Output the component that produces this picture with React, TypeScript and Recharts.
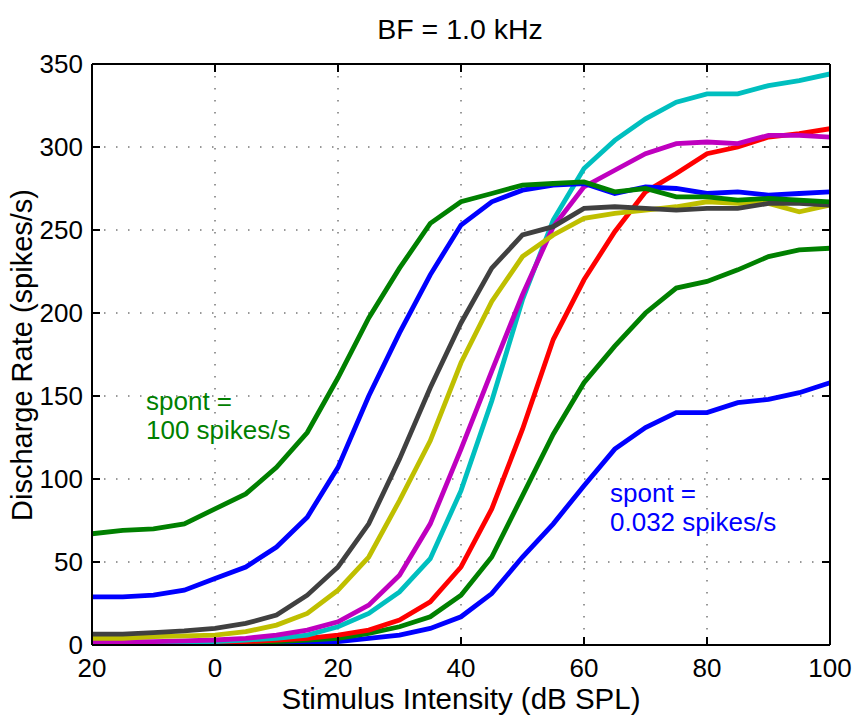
import React from 'react';
import { LineChart, Line, XAxis, YAxis, CartesianGrid } from 'recharts';

const intensities = [-20, -15, -10, -5, 0, 5, 10, 15, 20, 25, 30, 35, 40, 45, 50, 55, 60, 65, 70, 75, 80, 85, 90, 95, 100];

const rateBlueLow = [0, 0, 0, 0, 0.3, 0.5, 1, 1.5, 2, 4, 6, 10, 17, 31, 53, 73, 96, 118, 131, 140, 140, 146, 148, 152, 158];
const rateGreenLow = [0.5, 0.5, 0.6, 0.7, 1, 1.2, 2, 3, 4, 7, 11, 17, 30, 53, 90, 127, 158, 180, 200, 215, 219, 226, 234, 238, 239];
const rateRed = [1, 1, 1, 1, 1.3, 2, 3, 4, 6, 9, 15, 26, 47, 82, 130, 184, 220, 249, 273, 284, 296, 300, 306, 308, 311];
const rateCyan = [1, 1, 1, 1.5, 2, 3, 4, 6, 11, 19, 32, 52, 93, 147, 208, 256, 287, 304, 317, 327, 332, 332, 337, 340, 344];
const rateMagenta = [2, 2, 2, 2.5, 3, 4, 6, 9, 14, 24, 42, 73, 118, 165, 211, 252, 276, 286, 296, 302, 303, 302, 307, 307, 306];
const rateYellow = [4, 4, 5, 5.5, 6, 8, 12, 19, 33, 53, 87, 123, 170, 207, 234, 247, 257, 260, 262, 264, 267, 266, 266, 261, 265];
const rateGray = [6.5, 6.5, 7.5, 8.5, 10, 13, 18, 30, 47, 73, 112, 155, 194, 227, 247, 252, 263, 264, 263, 262, 263, 263, 266, 266, 265];
const rateBlueHigh = [29, 29, 30, 33, 40, 47, 59, 77, 107, 150, 188, 223, 253, 267, 274, 277, 278, 272, 276, 275, 272, 273, 271, 272, 273];
const rateGreenHigh = [67, 69, 70, 73, 82, 91, 107, 128, 161, 197, 227, 254, 267, 272, 277, 278, 279, 273, 275, 270, 270, 268, 269, 268, 267];

const seriesKeys = ['s1', 's2', 's3', 's4', 's5', 's6', 's7', 's8', 's9'];
const seriesValues = [rateBlueLow, rateGreenLow, rateRed, rateCyan, rateMagenta, rateYellow, rateGray, rateBlueHigh, rateGreenHigh];
const seriesColors = ['#0000ff', '#008000', '#ff0000', '#00bfbf', '#bf00bf', '#bfbf00', '#404040', '#0000ff', '#008000'];

const xTicks = [-20, 0, 20, 40, 60, 80, 100];
const xTickLabels = ['20', '0', '20', '40', '60', '80', '100'];
const yTicks = [0, 50, 100, 150, 200, 250, 300, 350];

const data = intensities.map((x, i) => {
  const row: Record<string, number> = { x };
  seriesKeys.forEach((k, j) => {
    row[k] = seriesValues[j][i];
  });
  return row;
});

const FONT = '"Liberation Sans", Arial, Helvetica, sans-serif';
const TICK_LEN = 8;

const BottomTick = (props: any) => {
  const { x, y, payload } = props;
  const idx = xTicks.indexOf(payload.value);
  return (
    <g>
      <line x1={x} y1={y} x2={x} y2={y - TICK_LEN} stroke="#000" strokeWidth={2} />
      <text x={x} y={y + 32} textAnchor="middle" fontSize={26} fontFamily={FONT} fill="#000">
        {idx >= 0 ? xTickLabels[idx] : payload.value}
      </text>
    </g>
  );
};

const TopTick = (props: any) => {
  const { x, y } = props;
  return <line x1={x} y1={y} x2={x} y2={y + TICK_LEN} stroke="#000" strokeWidth={2} />;
};

const LeftTick = (props: any) => {
  const { x, y, payload } = props;
  return (
    <g>
      <line x1={x} y1={y} x2={x + TICK_LEN} y2={y} stroke="#000" strokeWidth={2} />
      <text x={x - 9} y={y + 9} textAnchor="end" fontSize={26} fontFamily={FONT} fill="#000">
        {payload.value}
      </text>
    </g>
  );
};

const RightTick = (props: any) => {
  const { x, y } = props;
  return <line x1={x} y1={y} x2={x - TICK_LEN} y2={y} stroke="#000" strokeWidth={2} />;
};

export default function App() {
  return (
    <div style={{ position: 'absolute', left: 0, top: 0, width: 857, height: 716, background: '#fff' }}>
      <LineChart
        width={857}
        height={716}
        data={data}
        margin={{ top: 54, right: 17, bottom: 41, left: 52 }}
      >
        <CartesianGrid stroke="#333" strokeWidth={1} strokeDasharray="1.5 10.5" />
        <XAxis
          dataKey="x"
          type="number"
          domain={[-20, 100]}
          ticks={xTicks}
          allowDataOverflow
          height={30}
          tickSize={0}
          tickMargin={0}
          tickLine={false}
          axisLine={{ stroke: '#000', strokeWidth: 2 }}
          tick={BottomTick}
          interval={0}
        />
        <XAxis
          xAxisId="top"
          orientation="top"
          dataKey="x"
          type="number"
          domain={[-20, 100]}
          ticks={xTicks}
          allowDataOverflow
          height={10}
          tickSize={0}
          tickMargin={0}
          tickLine={false}
          axisLine={{ stroke: '#000', strokeWidth: 2 }}
          tick={TopTick}
          interval={0}
        />
        <YAxis
          type="number"
          domain={[0, 350]}
          ticks={yTicks}
          allowDataOverflow
          width={40}
          tickSize={0}
          tickMargin={0}
          tickLine={false}
          axisLine={{ stroke: '#000', strokeWidth: 2 }}
          tick={LeftTick}
          interval={0}
        />
        <YAxis
          yAxisId="right"
          orientation="right"
          type="number"
          domain={[0, 350]}
          ticks={yTicks}
          allowDataOverflow
          width={10}
          tickSize={0}
          tickMargin={0}
          tickLine={false}
          axisLine={{ stroke: '#000', strokeWidth: 2 }}
          tick={RightTick}
          interval={0}
        />
        {seriesKeys.map((k, j) => (
          <Line
            key={k}
            dataKey={k}
            type="linear"
            stroke={seriesColors[j]}
            strokeWidth={4.8}
            dot={false}
            activeDot={false}
            isAnimationActive={false}
          />
        ))}
      </LineChart>
      <svg
        width={857}
        height={716}
        style={{ position: 'absolute', left: 0, top: 0, pointerEvents: 'none' }}
      >
        <text x={460} y={39} textAnchor="middle" fontSize={28.5} fontFamily={FONT} fill="#000">
          BF = 1.0 kHz
        </text>
        <text x={461} y={709} textAnchor="middle" fontSize={29.5} fontFamily={FONT} fill="#000">
          Stimulus Intensity (dB SPL)
        </text>
        <text
          x={0}
          y={0}
          transform="translate(32, 355) rotate(-90)"
          textAnchor="middle"
          fontSize={29}
          fontFamily={FONT}
          fill="#000"
        >
          Discharge Rate (spikes/s)
        </text>
        <text x={146} y={410} fontSize={26} fontFamily={FONT} fill="#008000">
          spont =
        </text>
        <text x={146} y={439} fontSize={26} fontFamily={FONT} fill="#008000">
          100 spikes/s
        </text>
        <text x={610} y={502} fontSize={26} fontFamily={FONT} fill="#0000ff">
          spont =
        </text>
        <text x={610} y={531} fontSize={26} fontFamily={FONT} fill="#0000ff">
          0.032 spikes/s
        </text>
      </svg>
    </div>
  );
}
